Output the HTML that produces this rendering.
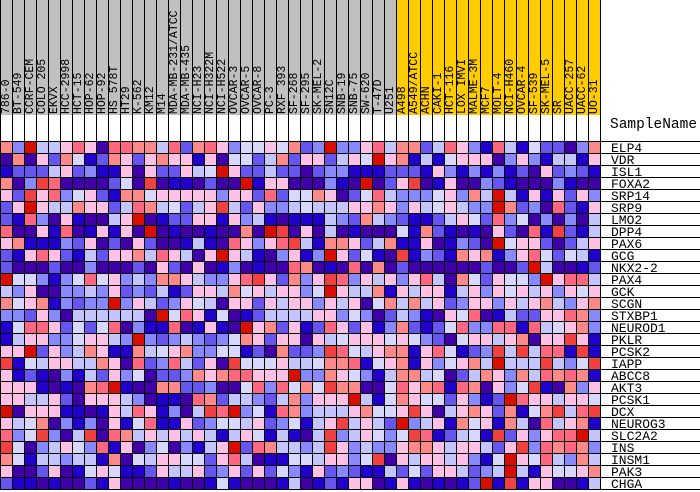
<!DOCTYPE html>
<html><head><meta charset="utf-8">
<style>
html,body{margin:0;padding:0;background:#fff;}
body{width:700px;height:489px;position:relative;overflow:hidden;font-family:"Liberation Mono","DejaVu Sans Mono",monospace;}
.h{position:absolute;top:0;width:11px;height:115px;background:#c0c0c0;}
.y{background:#ffcc00;}
.cl{position:absolute;top:0;width:11px;height:114px;writing-mode:vertical-rl;transform:rotate(180deg);font-size:11.5px;line-height:11px;color:#000;white-space:nowrap;text-align:left;overflow:hidden;}
.vl{position:absolute;top:0;width:1px;height:489px;background:#000;}
.hl{position:absolute;left:0;width:700px;height:1px;background:#000;}
.g{position:absolute;left:611px;font-size:13px;line-height:14px;color:#000;margin-top:2px;}
#grid{position:absolute;left:0;top:141px;width:601px;height:348px;background:#000;}
#grid div{position:absolute;width:11px;height:11px;}
</style></head><body>
<div id="hdr"></div>
<div id="grid"></div>
<div id="lines"></div>
<div id="labels">
<div class="cl" style="left:1px">786-0</div><div class="cl" style="left:13px">BT-549</div><div class="cl" style="left:25px">CCRF-CEM</div><div class="cl" style="left:37px">COLO 205</div><div class="cl" style="left:49px">EKVX</div><div class="cl" style="left:61px">HCC-2998</div><div class="cl" style="left:73px">HCT-15</div><div class="cl" style="left:85px">HOP-62</div><div class="cl" style="left:97px">HOP-92</div><div class="cl" style="left:109px">HS 578T</div><div class="cl" style="left:121px">HT29</div><div class="cl" style="left:133px">K-562</div><div class="cl" style="left:145px">KM12</div><div class="cl" style="left:157px">M14</div><div class="cl" style="left:169px">MDA-MB-231/ATCC</div><div class="cl" style="left:181px">MDA-MB-435</div><div class="cl" style="left:193px">NCI-H23</div><div class="cl" style="left:205px">NCI-H322M</div><div class="cl" style="left:217px">NCI-H522</div><div class="cl" style="left:229px">OVCAR-3</div><div class="cl" style="left:241px">OVCAR-5</div><div class="cl" style="left:253px">OVCAR-8</div><div class="cl" style="left:265px">PC-3</div><div class="cl" style="left:277px">RXF 393</div><div class="cl" style="left:289px">SF-268</div><div class="cl" style="left:301px">SF-295</div><div class="cl" style="left:313px">SK-MEL-2</div><div class="cl" style="left:325px">SN12C</div><div class="cl" style="left:337px">SNB-19</div><div class="cl" style="left:349px">SNB-75</div><div class="cl" style="left:361px">SW-620</div><div class="cl" style="left:373px">T-47D</div><div class="cl" style="left:385px">U251</div><div class="cl" style="left:397px">A498</div><div class="cl" style="left:409px">A549/ATCC</div><div class="cl" style="left:421px">ACHN</div><div class="cl" style="left:433px">CAKI-1</div><div class="cl" style="left:445px">HCT-116</div><div class="cl" style="left:457px">LOX IMVI</div><div class="cl" style="left:469px">MALME-3M</div><div class="cl" style="left:481px">MCF7</div><div class="cl" style="left:493px">MOLT-4</div><div class="cl" style="left:505px">NCI-H460</div><div class="cl" style="left:517px">OVCAR-4</div><div class="cl" style="left:529px">SF-539</div><div class="cl" style="left:541px">SK-MEL-5</div><div class="cl" style="left:553px">SR</div><div class="cl" style="left:565px">UACC-257</div><div class="cl" style="left:577px">UACC-62</div><div class="cl" style="left:589px">UO-31</div>
<div class="g" style="top:116px;left:610px;font-size:14.5px;">SampleName</div>
<div class="g" style="top:140px">ELP4</div><div class="g" style="top:152px">VDR</div><div class="g" style="top:164px">ISL1</div><div class="g" style="top:176px">FOXA2</div><div class="g" style="top:188px">SRP14</div><div class="g" style="top:200px">SRP9</div><div class="g" style="top:212px">LMO2</div><div class="g" style="top:224px">DPP4</div><div class="g" style="top:236px">PAX6</div><div class="g" style="top:248px">GCG</div><div class="g" style="top:260px">NKX2-2</div><div class="g" style="top:272px">PAX4</div><div class="g" style="top:284px">GCK</div><div class="g" style="top:296px">SCGN</div><div class="g" style="top:308px">STXBP1</div><div class="g" style="top:320px">NEUROD1</div><div class="g" style="top:332px">PKLR</div><div class="g" style="top:344px">PCSK2</div><div class="g" style="top:356px">IAPP</div><div class="g" style="top:368px">ABCC8</div><div class="g" style="top:380px">AKT3</div><div class="g" style="top:392px">PCSK1</div><div class="g" style="top:404px">DCX</div><div class="g" style="top:416px">NEUROG3</div><div class="g" style="top:428px">SLC2A2</div><div class="g" style="top:440px">INS</div><div class="g" style="top:452px">INSM1</div><div class="g" style="top:464px">PAK3</div><div class="g" style="top:476px">CHGA</div>
</div>
<script>
var C={R:"#d90e00",r:"#f04040",o:"#ff6680",s:"#ff8888",p:"#ffc0e6",w:"#d8d8ff",v:"#c4c4ff",m:"#8888ff",n:"#6655ee",B:"#2200cc",D:"#4000a8"};
var L=[
"smRvvpopDoossvonsopmwwpws"+"nmRmmpovssnvopmBovBwnnDms",
"DsDpnswBnspnpsppBpDwwnvsn"+"ppnvpwRpsBvBwpppDmpmBvvBp",
"BnnnvpnmBBpDpnnpvwRpnnvnn"+"DnmmBBBnnnBpmBmBmBnDpnmnB",
"sDmroDDDDnwDrDBBDnDDRBppD"+"DDmBDRDnprDBpDDmnBDDDmBDD",
"pnrpomwpnBsswpppppmppnonw"+"wspDnwovmmmwpmsvRvBpBpnpm",
"npRpvvsppnvosvwnvprvnpmmv"+"wvvvppspmpvwpvmmRsnmDonBp",
"nBomDpBDDvpRDBnnppBpmvBDB"+"BBvmnsvmnBBnvpwnomwDmDmDv",
"oDDpBoDBpBpDRDBDDBDDsDRrD"+"pDvDBDDDwBsnBDBDpnDoBrnBv",
"psBBBmnpDnDpnDDBvBDopmpor"+"vBsspnvsBBpDBmnDRwppnDnvp",
"nBpopnBvnppsvopvDpRpvBDmp"+"BmRpnwBDrBmnBspsBmpownwvB",
"nDDDnDDmDDDnDpnDpDBmDBDDo"+"sDBDoDsDnDDDDDDnDDnRvDDBn",
"RwwmBmwowpmvmsspvmmporpns"+"mprompvpmpovDswnpwwmRpoov",
"vmpDDmmvmpnmnvBnppvswpvpp"+"mwRpvvsBpvppBvpmpwpvpmpwp",
"swpsBmnmmRmpvnmpwvDppnpvp"+"pmpvpDwsvsvpnmppmpvpsvmps",
"mmnpmDvvvvvvDRwopBwDBnvvv"+"vppmwmDnvmBDpwoDBvnnppoSm".replace("S","s"),
"BwoopnwnwoDmBBoDBpBDRpsnp"+"BnopnpBmsnBnwommooBovwpsm",
"BvppmmwppvmRmnmvmnmwspnpp"+"DpvwpppwpwmnDwppvpsDpprpB",
"ppRnpmvspBBsvwpsmmwwBnDsn"+"nmrowvpssBpowBnmrvrvooBrB",
"rBwvppvvspDonmovnpDrwwwpv"+"vwssoBwpsBpmwpsvRvvvrvmwr",
"pBnBDmBvnpmwDnnmspsoopppR"+"mmspwmBvssvwDnvspmsvososB",
"pppBDBDsoRBDDssnnmDDwomow"+"swrssDDwopsoBosDpmwrBDsmp",
"ppvvpnDpppvmDBBDosnvvmnvs"+"mpppRvBwspwwnpmBnRoppvppw",
"RDpppBBDBpvopBmDvroRmwBos"+"mvvvpswwprpDvpspnsBwsrvor",
"pvwsDmBmDpBwoBBpnmwwvpnmw"+"BvprvpvnRmvpBswpBsvDovpsB",
"omwrmDvrDosvpvpvpvBvpwBvB"+"DvrmvpwmwroBnvwBrnpmpooRv",
"rwDmvpwmoBpDmwDmBvpRnosvv"+"mvrpmvmmpsspvppvnprmososm",
"swBvvmvvBsDwvppwwnpovDBBw"+"wvppmwrDpvppvpmBwRpwovmsv",
"pDDnpDBwpwBBnpvvpnmpnpnwm"+"BpnmnBBvnwnppvnmvRvBpwwps",
"nBBDBDDnBpDDDDBDDBwBDDDBv"+"DBnBppDBpBDBDBnRBrBppDDBv"
];
var g=document.getElementById('grid'),h="";
for(var r=0;r<29;r++){var s=L[r];for(var c=0;c<50;c++){var k=s[c]||'p';var col=C[k]||C.m;
h+='<div style="left:'+(c*12+1)+'px;top:'+(r*12+1)+'px;background:'+col+'"></div>';}}
g.innerHTML=h;
var hd="";for(var c=0;c<50;c++){hd+='<div class="h'+(c>=33?' y':'')+'" style="left:'+(c*12+1)+'px"></div>';}
document.getElementById('hdr').innerHTML=hd;
var ln="";for(var c=0;c<=50;c++){ln+='<div class="vl" style="left:'+(c*12)+'px"></div>';}
for(var r=0;r<=29;r++){ln+='<div class="hl" style="top:'+(141+r*12)+'px"></div>';}
document.getElementById('lines').innerHTML=ln;
</script>
</body></html>
